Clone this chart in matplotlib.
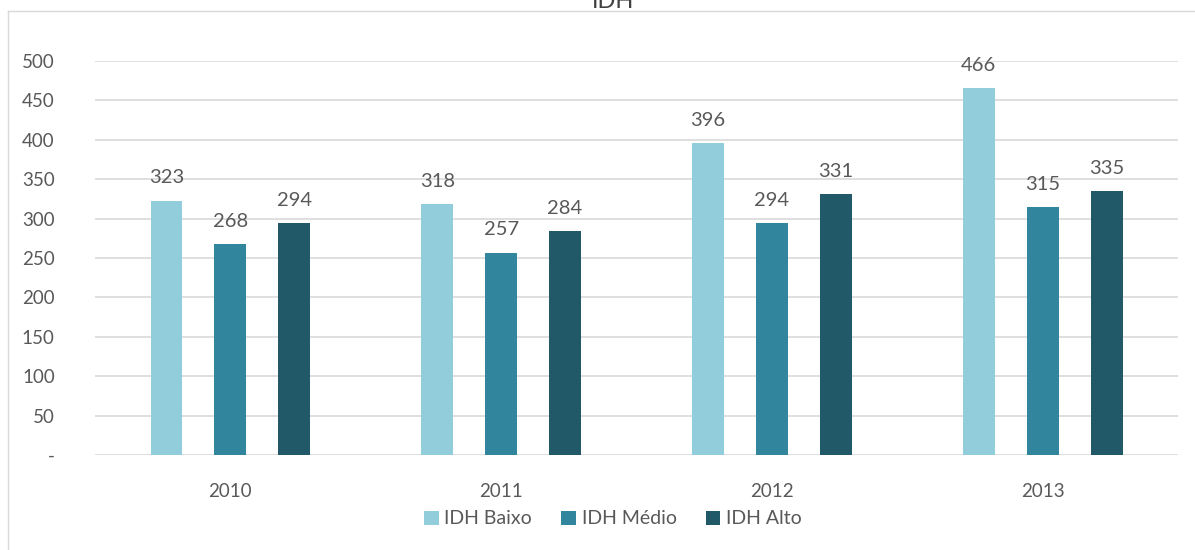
import numpy as np
import matplotlib.pyplot as plt
from matplotlib.lines import Line2D

plt.rcParams['font.family'] = ['Lato', 'DejaVu Sans']

years = ["2010", "2011", "2012", "2013"]
idh_baixo = [323, 318, 396, 466]
idh_medio = [268, 257, 294, 315]
idh_alto = [294, 284, 331, 335]

series = [
    ("IDH Baixo", idh_baixo, "#92CDDC"),
    ("IDH Médio", idh_medio, "#31859C"),
    ("IDH Alto", idh_alto, "#215968"),
]

txt = "#595959"
grid = "#d9d9d9"

fig = plt.figure(figsize=(11.95, 5.5), dpi=100)
ax = fig.add_axes([0.0795, 0.1727, 0.9063, 0.7163])

x = np.arange(len(years))
width = 0.118
step = 0.236
for i, (name, vals, col) in enumerate(series):
    pos = x + (i - 1) * step
    ax.bar(pos, vals, width, color=col, label=name, zorder=3)
    for xp, v in zip(pos, vals):
        ax.text(xp, v + 18, f"{v}", ha="center", va="bottom",
                fontsize=14.5, color=txt)

ax.set_xlim(-0.5, len(years) - 0.5)
ax.set_ylim(0, 500)
ax.set_yticks(range(0, 501, 50))
ax.set_yticklabels(["-"] + [str(v) for v in range(50, 501, 50)])
ax.set_xticks(x)
ax.set_xticklabels(years)
ax.tick_params(axis="y", length=0, pad=29, labelsize=13.5, labelcolor=txt)
ax.tick_params(axis="x", length=0, pad=20, labelsize=13.5, labelcolor=txt)
ax.yaxis.grid(True, color=grid, linewidth=1.2, zorder=0)
for s in ax.spines.values():
    s.set_visible(False)

# chart frame
fig.add_artist(Line2D([8 / 1195, 8 / 1195], [0, 1 - 11 / 550],
                      transform=fig.transFigure, color=grid, linewidth=1))
fig.add_artist(Line2D([8 / 1195, 1], [1 - 11 / 550, 1 - 11 / 550],
                      transform=fig.transFigure, color=grid, linewidth=1))

fig.text(0.513, 0.997, "IDH", ha="center", va="center", fontsize=17, color="#404040")

handles, labels = ax.get_legend_handles_labels()
fig.legend(handles, labels, loc="center", bbox_to_anchor=(0.513, 1 - 519 / 550),
           ncol=3, frameon=False, fontsize=14, labelcolor=txt,
           handlelength=0.75, handleheight=0.75, handletextpad=0.3, columnspacing=1.5)

fig.savefig("out.png", dpi=100)
